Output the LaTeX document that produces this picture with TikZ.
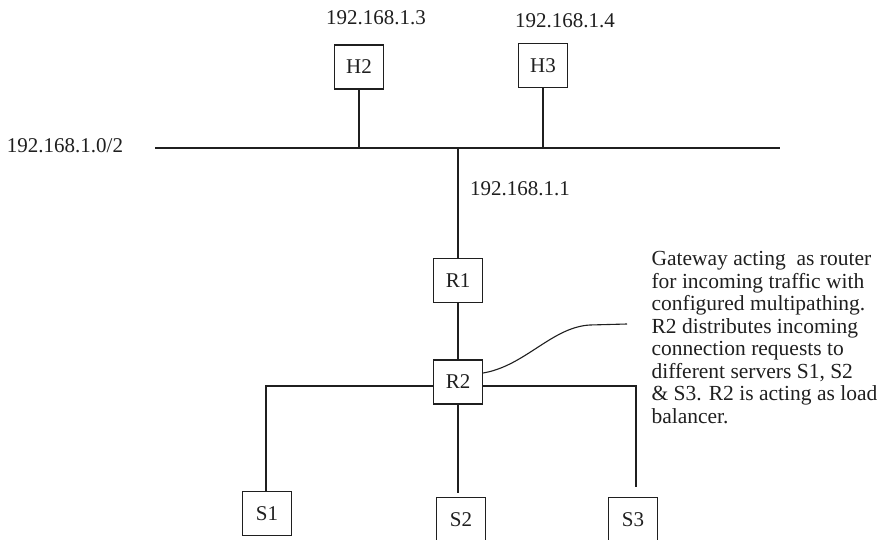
\documentclass[tikz,border=0pt]{standalone}
\usepackage{fontspec}
\setmainfont{Liberation Serif}

\begin{document}
\begin{tikzpicture}[x=1pt, y=-1pt, line width=1.1pt, color=black!88, font=\fontsize{21}{22.7}\selectfont,
	box/.style={draw, rectangle, inner sep=0pt, minimum width=49pt, minimum height=44pt}]
	% Paths, nodes and wires:
	\useasboundingbox (0, 0) rectangle (883, 540);
	\clip (0, 0) rectangle (883, 540);
	\node[box](H2) at (359, 67){H2};
	\node[box](H3) at (543, 65.5){H3};
	\node[box](R1) at (458, 280.5){R1};
	\node[box](R2) at (458, 382){R2};
	\node[box](S1) at (267, 513.5){S1};
	\node[box](S2) at (461, 519.5){S2};
	\node[box](S3) at (633, 519.5){S3};
	\node[anchor=base](ipH2) at (376, 25){192.168.1.3};
	\node[anchor=base](ipH3) at (565, 28){192.168.1.4};
	\node[anchor=base](ipNet) at (65, 153){192.168.1.0/2};
	\node[anchor=base](ipR1) at (520, 196){192.168.1.1};
	\node[anchor=north west, align=left, inner sep=0pt, font=\fontsize{21.5}{22.5}\selectfont](note) at (651, 251){Gateway acting\ \ as router\\for incoming traffic with\\configured multipathing.\\R2 distributes incoming\\connection requests to\\different servers S1, S2\\\& S3. R2 is acting as load\\balancer.};
	\coordinate (busL) at (155, 148);
	\coordinate (busR) at (780, 148);
	\coordinate (jS1) at (266, 386);
	\coordinate (jS3) at (636, 386);
	\coordinate (noteEnd) at (627, 324);
	\draw (busL) -- (busR);
	\draw (H2.south) -- (H2.south |- busL);
	\draw (H3.south) -- (H3.south |- busL);
	\draw (R1.north) -- (R1.north |- busL);
	\draw (R1.south) -- (R2.north);
	\draw (jS1 |- S1.north) -- (jS1) -- (R2.west |- jS1);
	\draw[shorten >=10pt] (R2.east |- jS3) -- (jS3) -- (jS3 |- S3.north);
	\draw[shorten >=4pt] (R2.south) -- (R2.south |- S2.north);
	\draw ([yshift=9pt]R2.east) .. controls (525, 366) and (552, 327) .. (590, 325) -- (noteEnd);
\end{tikzpicture}
\end{document}
